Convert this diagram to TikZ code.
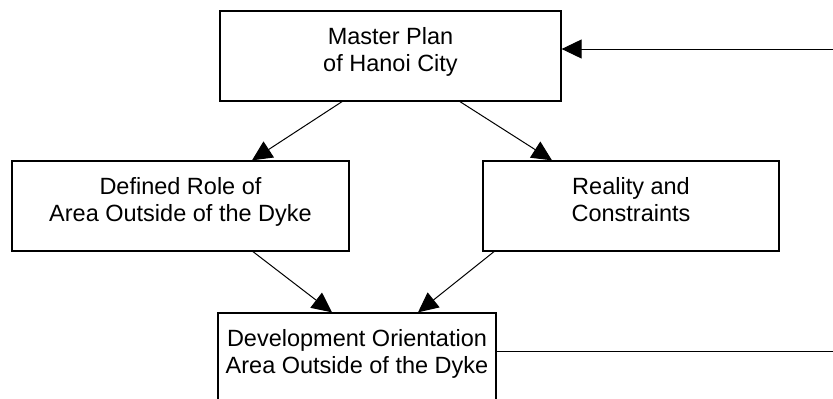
\documentclass[tikz,border=0pt]{standalone}
\usepackage{fontspec}
\setmainfont{Liberation Sans}
\usetikzlibrary{arrows.meta}

\newcommand{\boxtext}[2]{\parbox[c][90pt][t]{#1}{\centering\vspace*{16pt}#2}}

\begin{document}
\begin{tikzpicture}[x=1pt, y=-1pt,
		box/.style={draw, line width=1.3pt, inner sep=0pt, font=\fontsize{23.5}{27.5}\selectfont},
		link/.style={line width=1pt, -{Triangle[length=20pt, width=19pt]}}]
	\useasboundingbox (0,0) rectangle (833,399);

	\begin{scope}
		\node[box] (plan) at (390.5,56) {\boxtext{341pt}{Master Plan\\of Hanoi City}};
		\node[box] (role) at (180.5,206) {\boxtext{337pt}{Defined Role of\\Area Outside of the Dyke}};
		\node[box] (reality) at (631,206) {\boxtext{296pt}{Reality and\\Constraints}};
		\node[box] (orient) at (357,358) {\boxtext{278pt}{Development Orientation\\Area Outside of the Dyke}};
	\end{scope}

	\begin{scope}
		\draw[link] ([xshift=-48.5pt]plan.south) -- ([xshift=71.5pt]role.north);
		\draw[link] ([xshift=69.5pt]plan.south) -- ([xshift=-79pt]reality.north);
		\draw[link] ([xshift=72.5pt]role.south) -- ([xshift=-25pt]orient.north);
		\draw[link] ([xshift=-137pt]reality.south) -- ([xshift=61pt]orient.north);
	\end{scope}

	% feedback loop, runs off the page
	\coordinate (backin) at (834,49);
	\coordinate (backout) at (834,351);
	\draw[line width=1pt] ([yshift=7pt]orient.east) -- (backout);
	\draw[link] (backin) -- ([yshift=7pt]plan.east);
\end{tikzpicture}
\end{document}
